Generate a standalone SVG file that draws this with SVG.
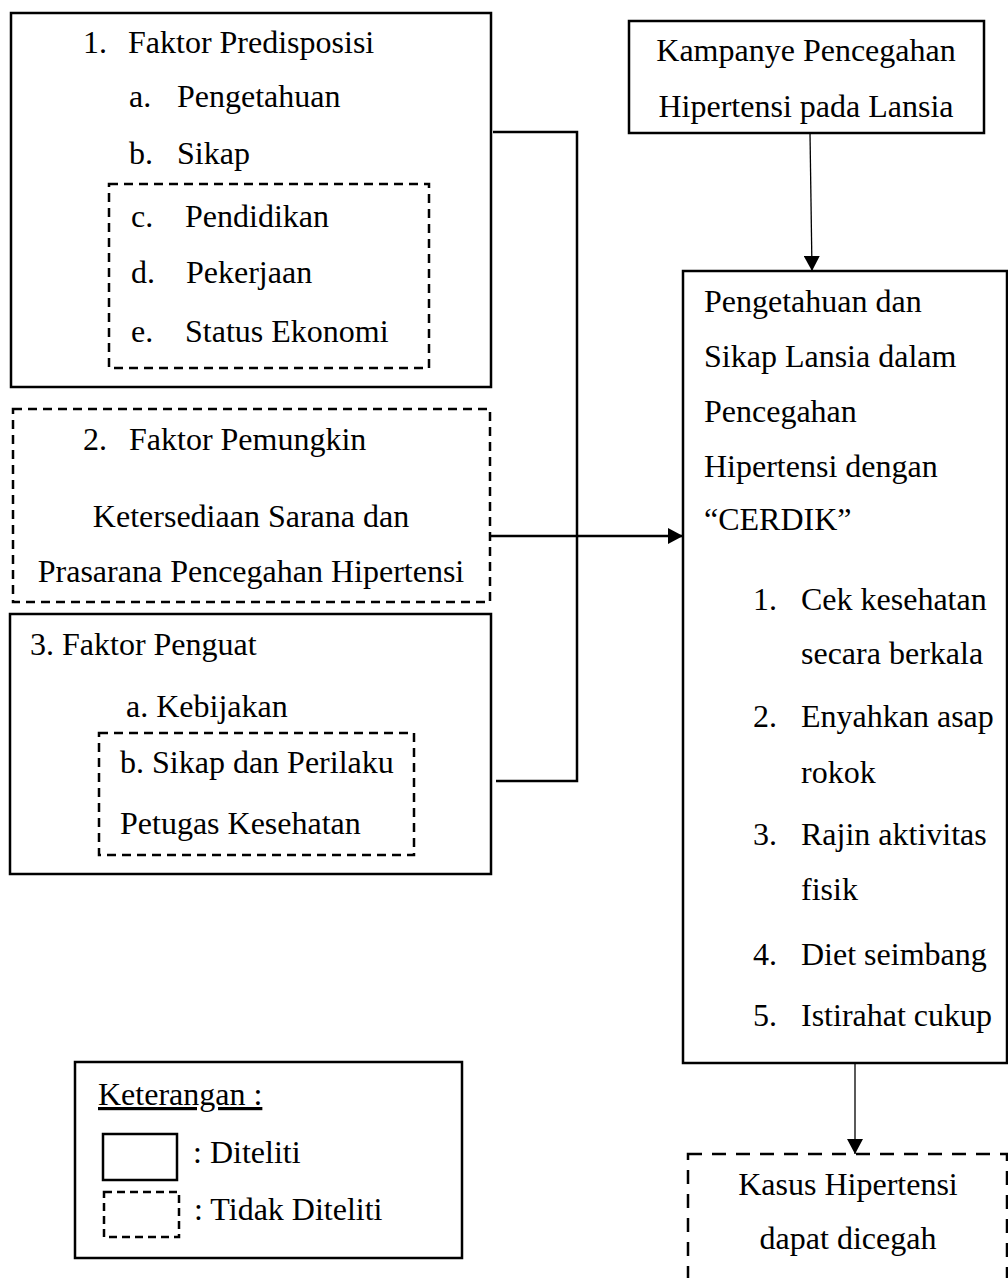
<svg xmlns="http://www.w3.org/2000/svg" width="1008" height="1278" viewBox="0 0 1008 1278">
<style>
text{font-family:"Liberation Serif","Times New Roman",serif;font-size:32px;fill:#000}
.c{text-anchor:middle}
.box{fill:none;stroke:#000;stroke-width:2.5}
.dash{fill:none;stroke:#000;stroke-width:2.5;stroke-dasharray:9 6}
.dashL{fill:none;stroke:#000;stroke-width:2.5;stroke-dasharray:14 10}
.conn{fill:none;stroke:#000;stroke-width:2.5}
.thin{fill:none;stroke:#000;stroke-width:1.3}
</style>
<defs>
<marker id="ah" markerUnits="userSpaceOnUse" markerWidth="16" markerHeight="16" refX="15" refY="8" orient="auto">
<path d="M0,0 L15,8 L0,16 Z" fill="#000"/>
</marker>
</defs>
<rect width="1008" height="1278" fill="#fff"/>

<g id="faktor-predisposisi">
<rect class="box" x="11" y="13" width="480" height="374"/>
<text x="83" y="53">1.</text><text x="128" y="53">Faktor Predisposisi</text>
<text x="129" y="107">a.</text><text x="177" y="107">Pengetahuan</text>
<text x="129" y="164">b.</text><text x="177" y="164">Sikap</text>
<rect class="dash" x="109" y="184" width="320" height="184"/>
<text x="131" y="227">c.</text><text x="185" y="227">Pendidikan</text>
<text x="131" y="283">d.</text><text x="186" y="283">Pekerjaan</text>
<text x="131" y="342">e.</text><text x="185" y="342">Status Ekonomi</text>
</g>

<g id="faktor-pemungkin">
<rect class="dash" x="13" y="409" width="477" height="193"/>
<text x="83" y="450">2.</text><text x="129" y="450">Faktor Pemungkin</text>
<text class="c" x="251" y="527">Ketersediaan Sarana dan</text>
<text class="c" x="251" y="582">Prasarana Pencegahan Hipertensi</text>
</g>

<g id="faktor-penguat">
<rect class="box" x="10" y="614" width="481" height="260"/>
<text x="30" y="655">3. Faktor Penguat</text>
<text x="126" y="717">a. Kebijakan</text>
<rect class="dash" x="99" y="733" width="315" height="122"/>
<text x="120" y="773">b. Sikap dan Perilaku</text>
<text x="120" y="834">Petugas Kesehatan</text>
</g>

<g id="kampanye">
<rect class="box" x="629" y="21" width="355" height="112"/>
<text class="c" x="806" y="61">Kampanye Pencegahan</text>
<text class="c" x="806" y="117">Hipertensi pada Lansia</text>
</g>

<g id="pengetahuan-sikap">
<rect class="box" x="683" y="271" width="324" height="792"/>
<text x="704" y="312">Pengetahuan dan</text>
<text x="704" y="367">Sikap Lansia dalam</text>
<text x="704" y="422">Pencegahan</text>
<text x="704" y="477">Hipertensi dengan</text>
<text x="704" y="530">“CERDIK”</text>
<text x="753" y="610">1.</text><text x="801" y="610">Cek kesehatan</text>
<text x="801" y="664">secara berkala</text>
<text x="753" y="727">2.</text><text x="801" y="727">Enyahkan asap</text>
<text x="801" y="783">rokok</text>
<text x="753" y="845">3.</text><text x="801" y="845">Rajin aktivitas</text>
<text x="801" y="900">fisik</text>
<text x="753" y="965">4.</text><text x="801" y="965">Diet seimbang</text>
<text x="753" y="1026">5.</text><text x="801" y="1026">Istirahat cukup</text>
</g>

<g id="kasus">
<rect class="dashL" x="688" y="1154" width="319" height="140"/>
<text class="c" x="848" y="1195">Kasus Hipertensi</text>
<text class="c" x="848" y="1249">dapat dicegah</text>
</g>

<g id="keterangan">
<rect class="box" x="75" y="1062" width="387" height="196"/>
<text x="98" y="1105" text-decoration="underline">Keterangan :</text>
<rect class="box" x="103" y="1134" width="74" height="46"/>
<text x="193" y="1163">: Diteliti</text>
<rect class="dash" x="104" y="1192" width="75" height="45" style="stroke-dasharray:8 5"/>
<text x="194" y="1220">: Tidak Diteliti</text>
</g>

<g id="connectors">
<polyline class="conn" points="493,132 577,132 577,781 496,781"/>
<line class="conn" x1="491" y1="536" x2="683" y2="536" marker-end="url(#ah)"/>
<line class="thin" x1="810" y1="133" x2="812" y2="271" marker-end="url(#ah)"/>
<line class="thin" x1="855" y1="1063" x2="855" y2="1154" marker-end="url(#ah)"/>
</g>
</svg>
